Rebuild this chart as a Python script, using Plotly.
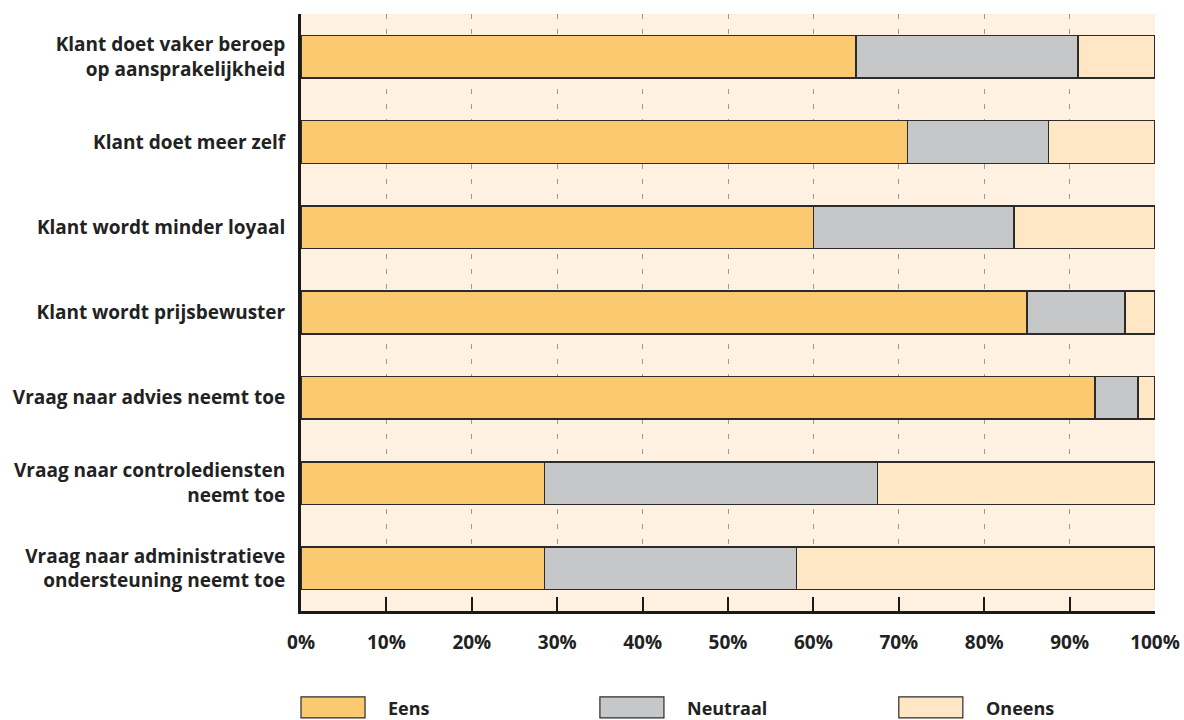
import plotly.graph_objects as go

categories = [
    "Klant doet vaker beroep<br>op aansprakelijkheid",
    "Klant doet meer zelf",
    "Klant wordt minder loyaal",
    "Klant wordt prijsbewuster",
    "Vraag naar advies neemt toe",
    "Vraag naar controlediensten<br>neemt toe",
    "Vraag naar administratieve<br>ondersteuning neemt toe",
]
eens = [65, 71, 60, 85, 93, 28.5, 28.5]
neutraal = [26, 16.5, 23.5, 11.5, 5, 39, 29.5]
oneens = [9, 12.5, 16.5, 3.5, 2, 32.5, 42]
series_names = ["Eens", "Neutraal", "Oneens"]
series_colors = ["#FBC96F", "#C6C7C9", "#FFE7C5"]
x_ticks = list(range(0, 101, 10))
x_tick_labels = [f"{v}%" for v in x_ticks]

FONT = "Open Sans"
TXT = "#222222"
fig = go.Figure()
for name, vals, col in zip(series_names, [eens, neutraal, oneens], series_colors):
    fig.add_trace(go.Bar(
        y=categories, x=vals, name=name, orientation="h",
        marker=dict(color=col, line=dict(color="#2b2b2b", width=1.5)),
        showlegend=False,
    ))

# custom legend (boxes + labels) in paper coords
shapes = []
annotations = []
for i, (name, col) in enumerate(zip(series_names, series_colors)):
    x0 = i * 0.35
    shapes.append(dict(type="rect", xref="paper", yref="paper",
                       x0=x0, x1=x0 + 0.075, y0=-0.179, y1=-0.144,
                       fillcolor=col, line=dict(color="#2b2b2b", width=1.2)))
    annotations.append(dict(xref="paper", yref="paper", x=x0 + 0.1, y=-0.162,
                            text=f"<b>{name}</b>", showarrow=False,
                            xanchor="left", yanchor="middle",
                            font=dict(family=FONT, size=18, color=TXT)))

fig.update_layout(
    barmode="stack",
    bargap=0.5,
    width=1184, height=720,
    margin=dict(l=301, r=29, t=14, b=109, autoexpand=False),
    paper_bgcolor="white",
    plot_bgcolor="#FFF1E1",
    shapes=shapes,
    annotations=annotations,
    font=dict(family=FONT, color=TXT),
)
fig.update_xaxes(
    range=[0, 100], tickvals=x_ticks, ticktext=[f"<b>{t}</b>" for t in x_tick_labels],
    showgrid=True, gridcolor="#999999", gridwidth=1, griddash="5px,10px",
    ticks="inside", ticklen=14, tickwidth=2, tickcolor="#1a1a1a",
    showline=True, linecolor="#1a1a1a", linewidth=2.5,
    tickfont=dict(family=FONT, size=19, color=TXT),
    ticklabelstandoff=12, zeroline=False, automargin=False,
)
fig.update_yaxes(
    autorange="reversed",
    showline=True, linecolor="#1a1a1a", linewidth=3,
    ticks="", ticklabelstandoff=9, automargin=False,
    tickvals=categories, ticktext=[f"<b>{c}</b>" for c in categories],
    tickfont=dict(family=FONT, size=19, color=TXT),
    showgrid=False,
)
fig.write_html("out.html")
